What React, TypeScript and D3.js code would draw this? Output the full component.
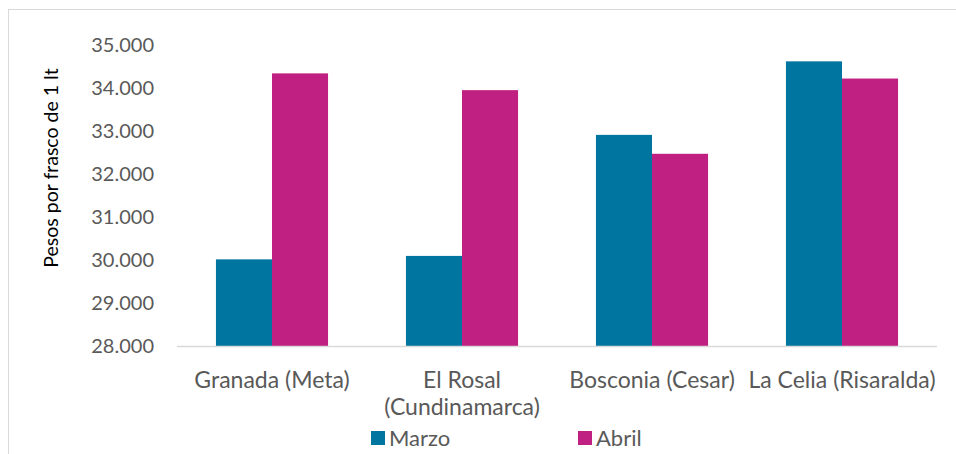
import React, { useEffect, useRef } from 'react';
import * as d3 from 'd3';

// values (pesos per 1 lt bottle)
const categories = ['Granada (Meta)', 'El Rosal (Cundinamarca)', 'Bosconia (Cesar)', 'La Celia (Risaralda)'];
const seriesNames = ['Marzo', 'Abril'];
const marzo = [30015, 30095, 32910, 34620];
const abril = [34340, 33950, 32470, 34220];
const yTicks = [28000, 29000, 30000, 31000, 32000, 33000, 34000, 35000];
const colors = ['#00759F', '#C02081'];

const W = 956;
const H = 454;

const locale = d3.formatLocale({ decimal: ',', thousands: '.', grouping: [3], currency: ['$', ''] });
const fmt = locale.format(',.0f');

const App = () => {
  const ref = useRef<SVGSVGElement>(null);

  useEffect(() => {
    const svg = d3.select(ref.current);
    svg.selectAll('*').remove();

    const font = 'Lato, "Open Sans", sans-serif';
    const left = 177, right = 937, top = 45, bottom = 346;

    // outer frame (runs past the window edges)
    svg.append('rect')
      .attr('x', 8.5).attr('y', 9.5)
      .attr('width', W + 20).attr('height', H + 20)
      .attr('fill', 'white').attr('stroke', '#D9D9D9');

    const x = d3.scaleBand().domain(categories).range([left, right])
      .paddingInner(0.41).paddingOuter(0.205);
    const xs = d3.scaleBand().domain(seriesNames).range([0, x.bandwidth()]);
    const y = d3.scaleLinear().domain([28000, 35000]).range([bottom, top]);

    const data = [marzo, abril];

    // bars
    seriesNames.forEach((s, si) => {
      svg.append('g').selectAll('rect')
        .data(data[si])
        .join('rect')
        .attr('x', (d, i) => x(categories[i])! + xs(s)!)
        .attr('y', d => y(d))
        .attr('width', xs.bandwidth())
        .attr('height', d => y(28000) - y(d))
        .attr('fill', colors[si]);
    });

    // x axis line
    svg.append('line')
      .attr('x1', left).attr('x2', right)
      .attr('y1', bottom + 0.5).attr('y2', bottom + 0.5)
      .attr('stroke', '#D9D9D9').attr('stroke-width', 1.5);

    // y tick labels
    svg.append('g').selectAll('text')
      .data(yTicks)
      .join('text')
      .attr('x', 154)
      .attr('y', d => y(d))
      .attr('dy', '0.35em')
      .attr('text-anchor', 'end')
      .attr('font-family', font)
      .attr('font-size', 20)
      .attr('fill', '#595959')
      .text(d => fmt(d));

    // category labels, wrapped to band step
    const labels = svg.append('g').selectAll('text')
      .data(categories)
      .join('text')
      .attr('x', d => x(d)! + x.bandwidth() / 2)
      .attr('y', 388)
      .attr('text-anchor', 'middle')
      .attr('font-family', font)
      .attr('font-size', 23)
      .attr('fill', '#595959');

    labels.each(function (d) {
      const t = d3.select(this);
      const words = d.split(' ');
      let line: string[] = [];
      let tspan = t.append('tspan').attr('x', x(d)! + x.bandwidth() / 2).attr('dy', 0);
      words.forEach(w => {
        line.push(w);
        tspan.text(line.join(' '));
        if ((tspan.node() as SVGTSpanElement).getComputedTextLength() > x.step() && line.length > 1) {
          line.pop();
          tspan.text(line.join(' '));
          line = [w];
          tspan = t.append('tspan').attr('x', x(d)! + x.bandwidth() / 2).attr('dy', 27).text(w);
        }
      });
    });

    // y axis title
    svg.append('text')
      .attr('transform', 'translate(58,168) rotate(-90)')
      .attr('text-anchor', 'middle')
      .attr('font-family', font)
      .attr('font-size', 19.5)
      .attr('fill', '#000')
      .text('Pesos por frasco de 1 lt');

    // legend
    const legendX = [371, 578];
    seriesNames.forEach((s, si) => {
      svg.append('rect')
        .attr('x', legendX[si]).attr('y', 431)
        .attr('width', 14).attr('height', 14)
        .attr('fill', colors[si]);
      svg.append('text')
        .attr('x', legendX[si] + 18).attr('y', 438)
        .attr('dy', '0.35em')
        .attr('font-family', font)
        .attr('font-size', 22)
        .attr('fill', '#595959')
        .text(s);
    });
  }, []);

  return (
    <svg ref={ref} width={W} height={H}
      style={{ position: 'fixed', left: 0, top: 0, background: 'white' }} />
  );
};

export default App;
